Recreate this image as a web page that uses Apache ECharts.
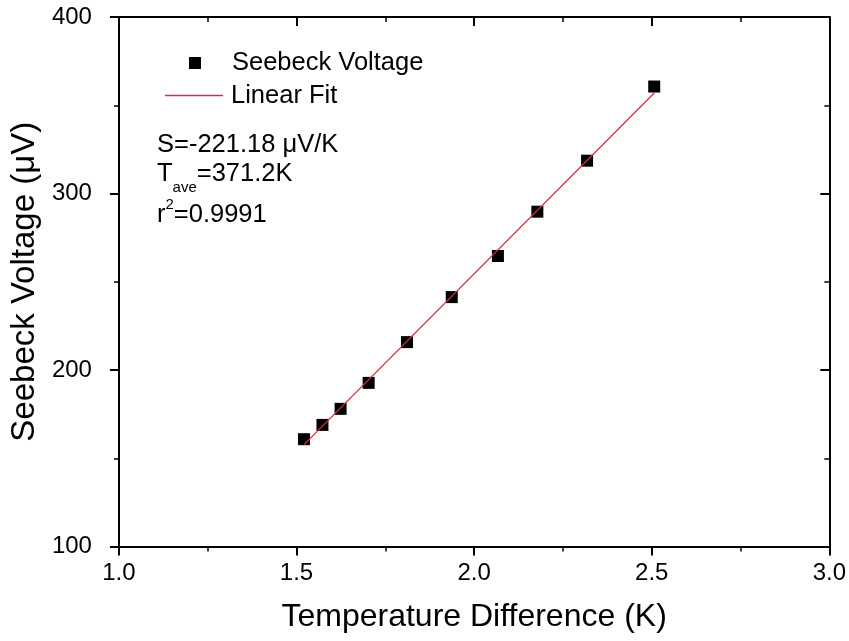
<!DOCTYPE html>
<html>
<head>
<meta charset="utf-8">
<script src="https://cdn.jsdelivr.net/npm/echarts@6/dist/echarts.min.js"></script>
<style>
html,body{margin:0;padding:0;background:#fff;}
#chart{width:849px;height:641px;}
</style>
</head>
<body>
<div id="chart"></div>
<script>
// Data
const temperatureDiff = [1.521, 1.573, 1.624, 1.703, 1.811, 1.937, 2.067, 2.178, 2.318, 2.507];
const seebeckVoltage = [160.8, 168.9, 178.0, 192.7, 215.8, 241.3, 264.6, 289.7, 318.6, 360.6];
const fitX = [1.521, 2.507];
const fitY = [157.7, 356.9];
const xTicks = ['1.0', '1.5', '2.0', '2.5', '3.0'];
const yTicks = ['100', '200', '300', '400'];
const seriesNames = ['Seebeck Voltage', 'Linear Fit'];
const annotations = ['S=-221.18 \u03bcV/K', 'T', 'ave', '=371.2K', 'r', '2', '=0.9991'];

const FONT = '"Liberation Sans", Arial, sans-serif';
const MAIN = 25.5, SMALL = 15, SUP = 15;
const chart = echarts.init(document.getElementById('chart'), null, {renderer: 'canvas'});

// measure text widths so sub/superscripts follow their base text
const mctx = document.createElement('canvas').getContext('2d');
function tw(str, size) { mctx.font = size + 'px ' + FONT; return mctx.measureText(str).width; }

const axisLineStyle = {lineStyle: {color: '#000', width: 2}};
const majorTick = {color: '#000', width: 2};
const minorTickStyle = {color: '#000', width: 1.5};

const ax0 = 157;
const tX = ax0 + tw(annotations[1], MAIN);
const tX2 = tX + tw(annotations[2], SMALL);
const rX = ax0 + tw(annotations[4], MAIN);
const rX2 = rX + tw(annotations[5], SUP);

function txt(str, x, y, size) {
  return {type: 'text', x: x, y: y, z: 10,
    style: {text: str, x: 0, y: 0, fontSize: size, fontFamily: FONT, fill: '#000', verticalAlign: 'middle', align: 'left'}};
}

const option = {
  backgroundColor: '#fff',
  animation: false,
  textStyle: {fontFamily: FONT},
  grid: {left: 116, right: 18, top: 17, bottom: 94.5, containLabel: false},
  legend: [
    {
      orient: 'vertical', left: 189, top: 50, padding: 0,
      itemWidth: 12, itemHeight: 12,
      textStyle: {fontFamily: FONT, fontSize: MAIN, color: '#000', lineHeight: 26, padding: [0, 0, 0, 26]},
      data: [{name: seriesNames[0], icon: 'rect', itemStyle: {color: '#000', opacity: 1}}]
    },
    {
      orient: 'vertical', left: 165, top: 82.5, padding: 0,
      itemWidth: 58, itemHeight: 1.4,
      textStyle: {fontFamily: FONT, fontSize: MAIN, color: '#000', lineHeight: 26, padding: [0, 0, 0, 3]},
      data: [{name: seriesNames[1], icon: 'rect', itemStyle: {color: '#d0303c'}}]
    }
  ],
  xAxis: [
    {
      type: 'value', position: 'bottom', min: 1.0, max: 3.0, interval: 0.5,
      axisLine: axisLineStyle,
      axisTick: {inside: false, length: 9, lineStyle: majorTick},
      minorTick: {show: true, splitNumber: 2, length: 5, lineStyle: minorTickStyle},
      splitLine: {show: false},
      axisLabel: {
        margin: 15, fontSize: 24, color: '#000', fontFamily: FONT,
        formatter: function (v) { return xTicks[Math.round((v - 1.0) / 0.5)]; }
      },
      name: 'Temperature Difference (K)',
      nameLocation: 'middle', nameGap: 55,
      nameTextStyle: {fontSize: 32, color: '#000', fontFamily: FONT}
    },
    {
      type: 'value', position: 'top', min: 1.0, max: 3.0, interval: 0.5,
      axisLine: axisLineStyle,
      axisTick: {inside: true, length: 9, lineStyle: majorTick},
      minorTick: {show: true, splitNumber: 2, length: 5, lineStyle: minorTickStyle},
      splitLine: {show: false},
      axisLabel: {show: false}
    }
  ],
  yAxis: [
    {
      type: 'value', position: 'left', min: 100, max: 400, interval: 100,
      axisLine: axisLineStyle,
      axisTick: {inside: false, length: 9, lineStyle: majorTick},
      minorTick: {show: true, splitNumber: 2, length: 5, lineStyle: minorTickStyle},
      splitLine: {show: false},
      axisLabel: {
        margin: 27, fontSize: 24, color: '#000', fontFamily: FONT,
        formatter: function (v) { return yTicks[Math.round((v - 100) / 100)]; }
      },
      name: 'Seebeck Voltage (\u03bcV)',
      nameLocation: 'middle', nameGap: 65, nameRotate: 90,
      nameTextStyle: {fontSize: 33, color: '#000', fontFamily: FONT}
    },
    {
      type: 'value', position: 'right', min: 100, max: 400, interval: 100,
      axisLine: axisLineStyle,
      axisTick: {inside: true, length: 9, lineStyle: majorTick},
      minorTick: {show: true, splitNumber: 2, length: 5, lineStyle: minorTickStyle},
      splitLine: {show: false},
      axisLabel: {show: false}
    }
  ],
  series: [
    {
      name: seriesNames[0],
      type: 'scatter',
      xAxisIndex: 0, yAxisIndex: 0,
      symbol: 'rect',
      symbolSize: 12,
      itemStyle: {color: '#000', opacity: 1},
      z: 2,
      data: temperatureDiff.map((x, i) => [x, seebeckVoltage[i]])
    },
    {
      name: seriesNames[1],
      type: 'line',
      xAxisIndex: 0, yAxisIndex: 0,
      symbol: 'none',
      showSymbol: false,
      lineStyle: {color: '#d0303c', width: 1.3},
      itemStyle: {color: '#d0303c'},
      z: 3,
      data: fitX.map((x, i) => [x, fitY[i]])
    }
  ],
  graphic: [
    txt(annotations[0], ax0, 145, MAIN),
    txt(annotations[1], ax0, 173.5, MAIN),
    txt(annotations[2], tX, 188, SMALL),
    txt(annotations[3], tX2, 173.5, MAIN),
    txt(annotations[4], ax0, 215, MAIN),
    txt(annotations[5], rX, 205, SUP),
    txt(annotations[6], rX2, 215, MAIN)
  ]
};
chart.setOption(option);
</script>
</body>
</html>
